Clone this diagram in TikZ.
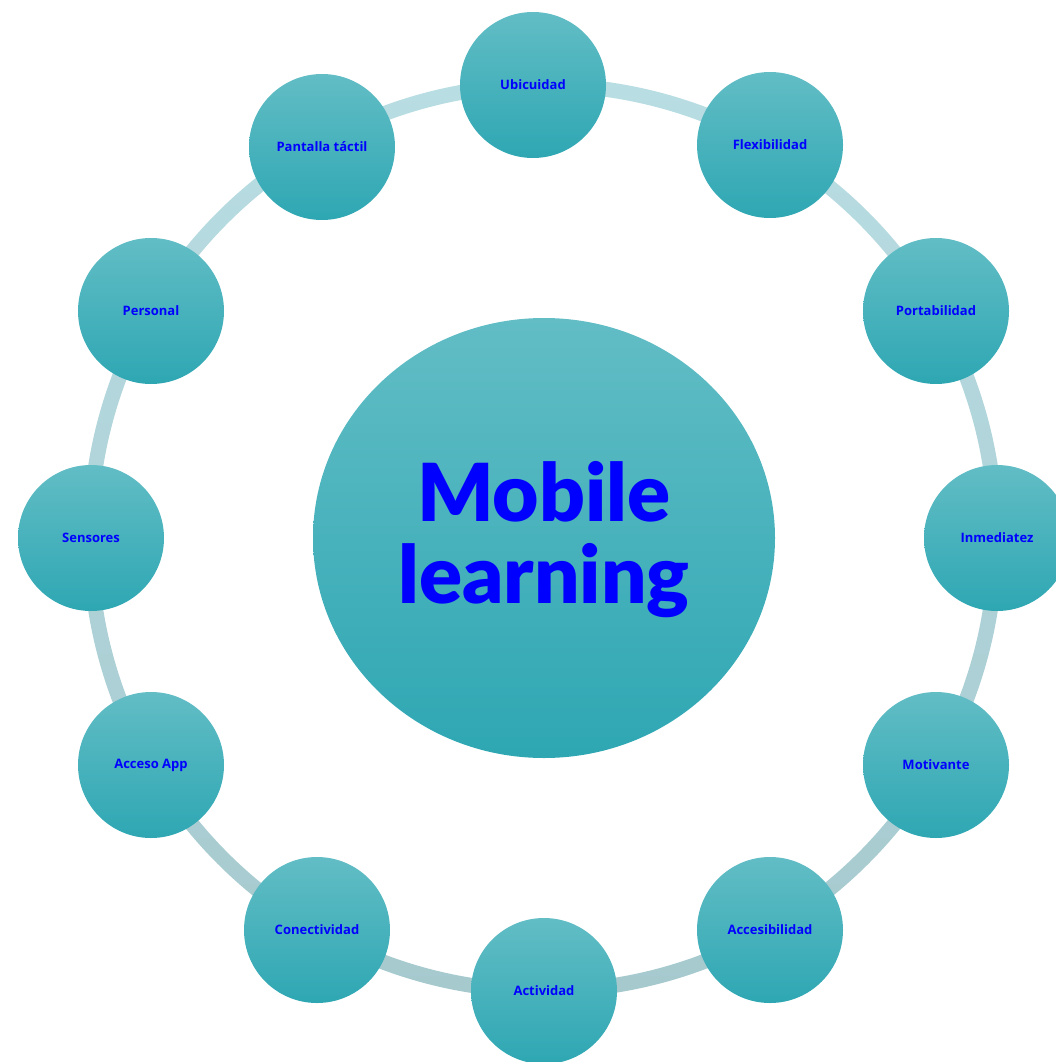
\documentclass[tikz,border=0pt]{standalone}
\usepackage{fontspec}
\newfontfamily\labfont{Open Sans}
\newfontfamily\bigfont{Lato Black}
\definecolor{txtblue}{HTML}{0000FF}
\definecolor{ringtop}{HTML}{B8DDE2}
\definecolor{ringbot}{HTML}{A6C9CE}
\definecolor{ctop}{HTML}{62BDC5}
\definecolor{cmid}{HTML}{3EB5C0}
\definecolor{cbot}{HTML}{2EA7B3}
\tikzset{
  feat/.style={circle, minimum size=146pt, inner sep=0pt, top color=ctop, middle color=cmid, bottom color=cbot, text=txtblue, font=\labfont\bfseries\fontsize{13}{15}\selectfont},
}
\begin{document}
\begin{tikzpicture}[x=1pt,y=-1pt]
\useasboundingbox (0,0) rectangle (1055,1062);
% ring
\shade[top color=ringtop, bottom color=ringbot, even odd rule] (543,538) circle (460.5) (543,538) circle (445.5);
% centre
\shade[top color=ctop, middle color=cmid, bottom color=cbot] (544,538) ellipse (231 and 220);
\node[text=txtblue, align=center, font=\bigfont\fontsize{80}{82}\selectfont] (ml) at (544,540) {Mobile\\learning};
% features
\node[feat] (ubi) at (533,85) {Ubicuidad};
\node[feat] (fle) at (770,145) {Flexibilidad};
\node[feat] (por) at (936,311) {Portabilidad};
\node[feat] (inm) at (997,538) {Inmediatez};
\node[feat] (mot) at (936,765) {Motivante};
\node[feat] (acc) at (770,930) {Accesibilidad};
\node[feat] (act) at (544,991) {Actividad};
\node[feat] (con) at (317,930) {Conectividad};
\node[feat] (app) at (151,765) {Acceso App};
\node[feat] (sen) at (91,538) {Sensores};
\node[feat] (per) at (151,311) {Personal};
\node[feat] (pan) at (322,147) {Pantalla táctil};
\end{tikzpicture}
\end{document}
